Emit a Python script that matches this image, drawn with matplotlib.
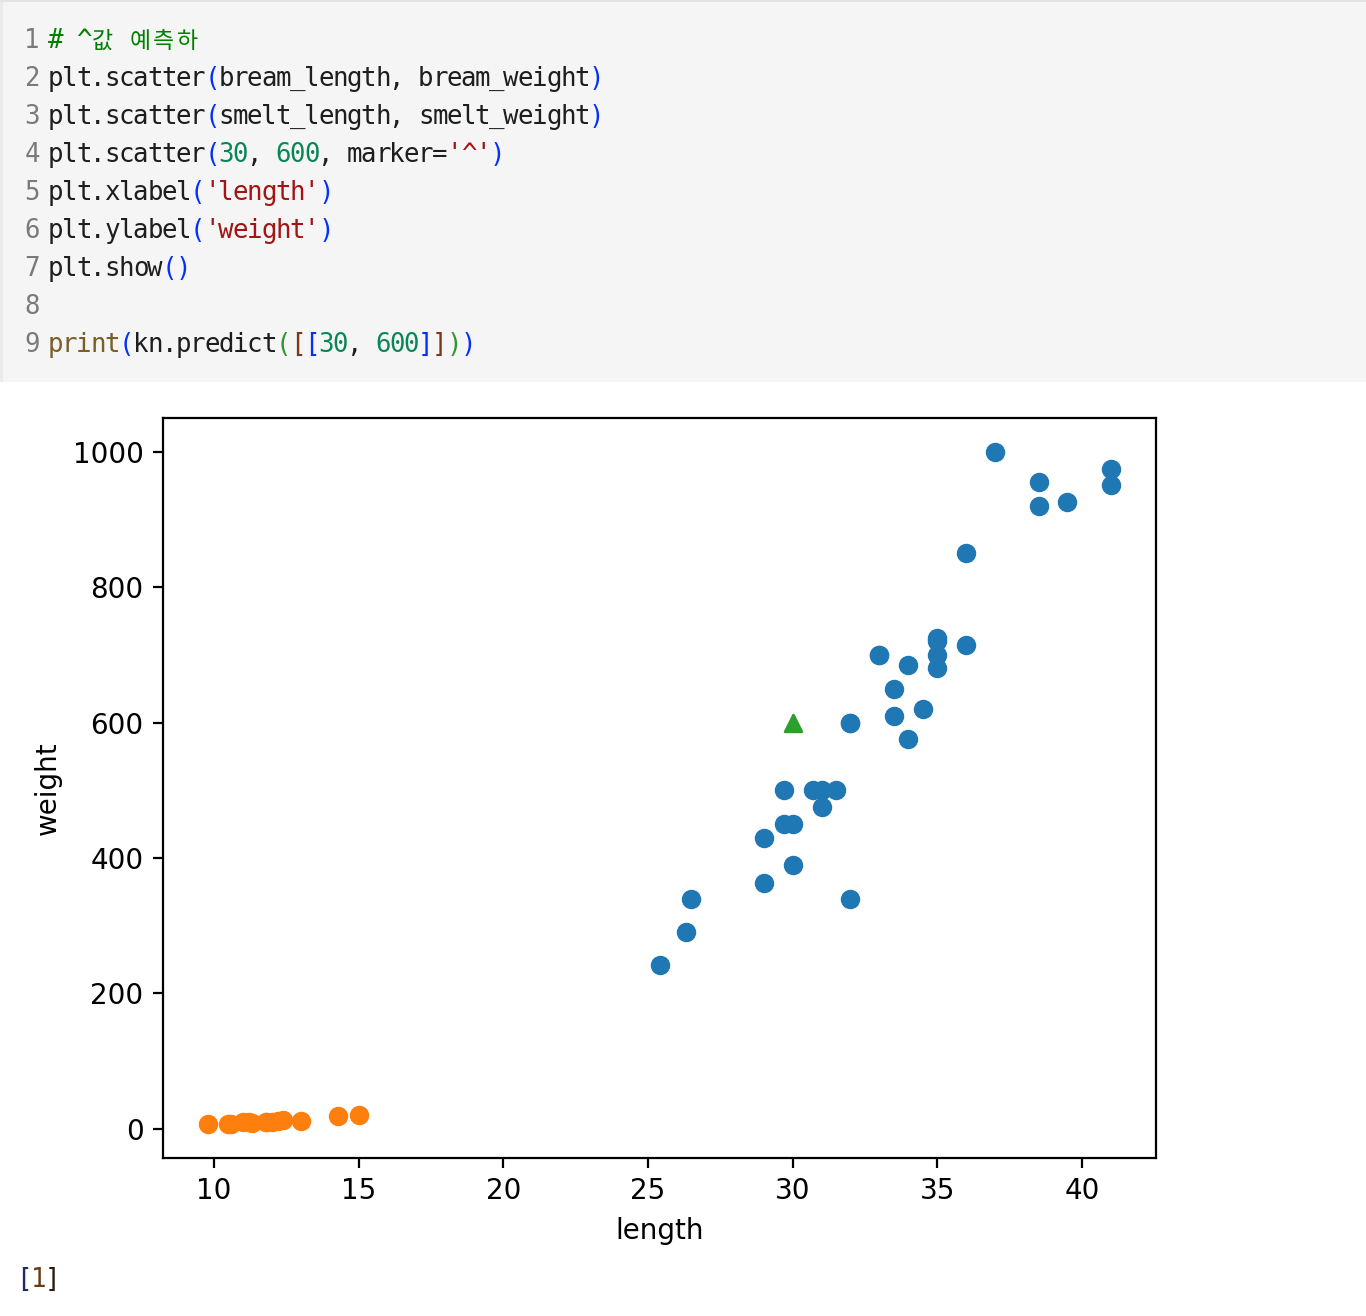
import matplotlib
matplotlib.use("Agg")
import matplotlib.pyplot as plt
from matplotlib.patches import Rectangle

# fish data
bream_length = [25.4, 26.3, 26.5, 29.0, 29.0, 29.7, 29.7, 30.0, 30.0, 30.7, 31.0, 31.0,
                31.5, 32.0, 32.0, 32.0, 33.0, 33.0, 33.5, 33.5, 34.0, 34.0, 34.5, 35.0,
                35.0, 35.0, 35.0, 36.0, 36.0, 37.0, 38.5, 38.5, 39.5, 41.0, 41.0]
bream_weight = [242.0, 290.0, 340.0, 363.0, 430.0, 450.0, 500.0, 390.0, 450.0, 500.0,
                475.0, 500.0, 500.0, 340.0, 600.0, 600.0, 700.0, 700.0, 610.0, 650.0,
                575.0, 685.0, 620.0, 680.0, 700.0, 725.0, 720.0, 714.0, 850.0, 1000.0,
                920.0, 955.0, 925.0, 975.0, 950.0]
smelt_length = [9.8, 10.5, 10.6, 11.0, 11.2, 11.3, 11.8, 11.8, 12.0, 12.2, 12.4, 13.0, 14.3, 15.0]
smelt_weight = [6.7, 7.5, 7.0, 9.7, 9.8, 8.7, 10.0, 9.9, 9.8, 12.2, 13.4, 12.2, 19.7, 19.9]
new_length = [30]
new_weight = [600]

W, H = 1366, 1316

# editor colours
BLK = '#1e1e1e'
BLUE = '#0431fa'
GRN = '#319331'
BRN = '#7b3814'
STR = '#a31515'
NUM = '#098658'
FUN = '#795e26'
COM = '#008000'

code_lines = [
    [('# ^값 예측하', COM)],
    [('plt.scatter', BLK), ('(', BLUE), ('bream_length, bream_weight', BLK), (')', BLUE)],
    [('plt.scatter', BLK), ('(', BLUE), ('smelt_length, smelt_weight', BLK), (')', BLUE)],
    [('plt.scatter', BLK), ('(', BLUE), ('30', NUM), (', ', BLK), ('600', NUM),
     (', marker=', BLK), ("'^'", STR), (')', BLUE)],
    [('plt.xlabel', BLK), ('(', BLUE), ("'length'", STR), (')', BLUE)],
    [('plt.ylabel', BLK), ('(', BLUE), ("'weight'", STR), (')', BLUE)],
    [('plt.show', BLK), ('()', BLUE)],
    [],
    [('print', FUN), ('(', BLUE), ('kn.predict', BLK), ('(', GRN), ('[', BRN), ('[', BLUE),
     ('30', NUM), (', ', BLK), ('600', NUM), (']', BLUE), (']', BRN), (')', GRN), (')', BLUE)],
]

fig = plt.figure(figsize=(W / 100, H / 100), dpi=100)
fig.patch.set_facecolor('white')

def fx(px):
    return px / W

def fy(py):
    return 1 - py / H

# code cell background
fig.patches.append(Rectangle((0, fy(382)), 1, 382 / H, transform=fig.transFigure,
                             facecolor='#f5f5f5', edgecolor='none', zorder=0))
fig.patches.append(Rectangle((0, fy(382)), fx(3), 382 / H, transform=fig.transFigure,
                             facecolor='#ebebeb', edgecolor='none', zorder=0))
fig.patches.append(Rectangle((0, fy(2)), 1, 2 / H, transform=fig.transFigure,
                             facecolor='#e3e3e3', edgecolor='none', zorder=0))

mono = ['DejaVu Sans Mono', 'Noto Sans CJK KR']
FS = 18.5
x0 = 48
cw = 14.25
kw = 23.5   # hangul cell width


def put_chars(x, y, txt, color):
    # one glyph per cell, like the editor's grid
    for ch in txt:
        hangul = ord(ch) > 0x1100
        w = kw if hangul else cw
        if ch != ' ':
            fig.text(fx(x + w / 2), fy(y), ch, ha='center', va='center', color=color,
                     fontsize=16.5 if hangul else FS, family=mono)
        x += w
    return x


for i, toks in enumerate(code_lines):
    y = 41 + i * 38
    put_chars(25, y, str(i + 1), '#7a7a7a')
    x = x0
    for txt, c in toks:
        x = put_chars(x, y, txt, c)

# output prompt
xp = put_chars(17, 1280, '[', '#1a2a6c')
xp = put_chars(xp, 1280, '1', '#6b3a12')
put_chars(xp, 1280, ']', '#2b1a10')

# scatter plot
ax = fig.add_axes([fx(163), fy(1158), 993 / W, 740 / H])
ax.scatter(bream_length, bream_weight, s=144, linewidths=2, color='#1f77b4')
ax.scatter(smelt_length, smelt_weight, s=144, linewidths=2, color='#ff7f0e')
ax.scatter(new_length, new_weight, s=144, linewidths=2, marker='^', color='#2ca02c')
ax.set_xlabel('length', fontsize=20, labelpad=8)
ax.set_ylabel('weight', fontsize=20, labelpad=8)
ax.tick_params(labelsize=20, length=7, width=1.6, pad=7)
for sp in ax.spines.values():
    sp.set_linewidth(1.6)

fig.savefig('out.png', dpi=100)
